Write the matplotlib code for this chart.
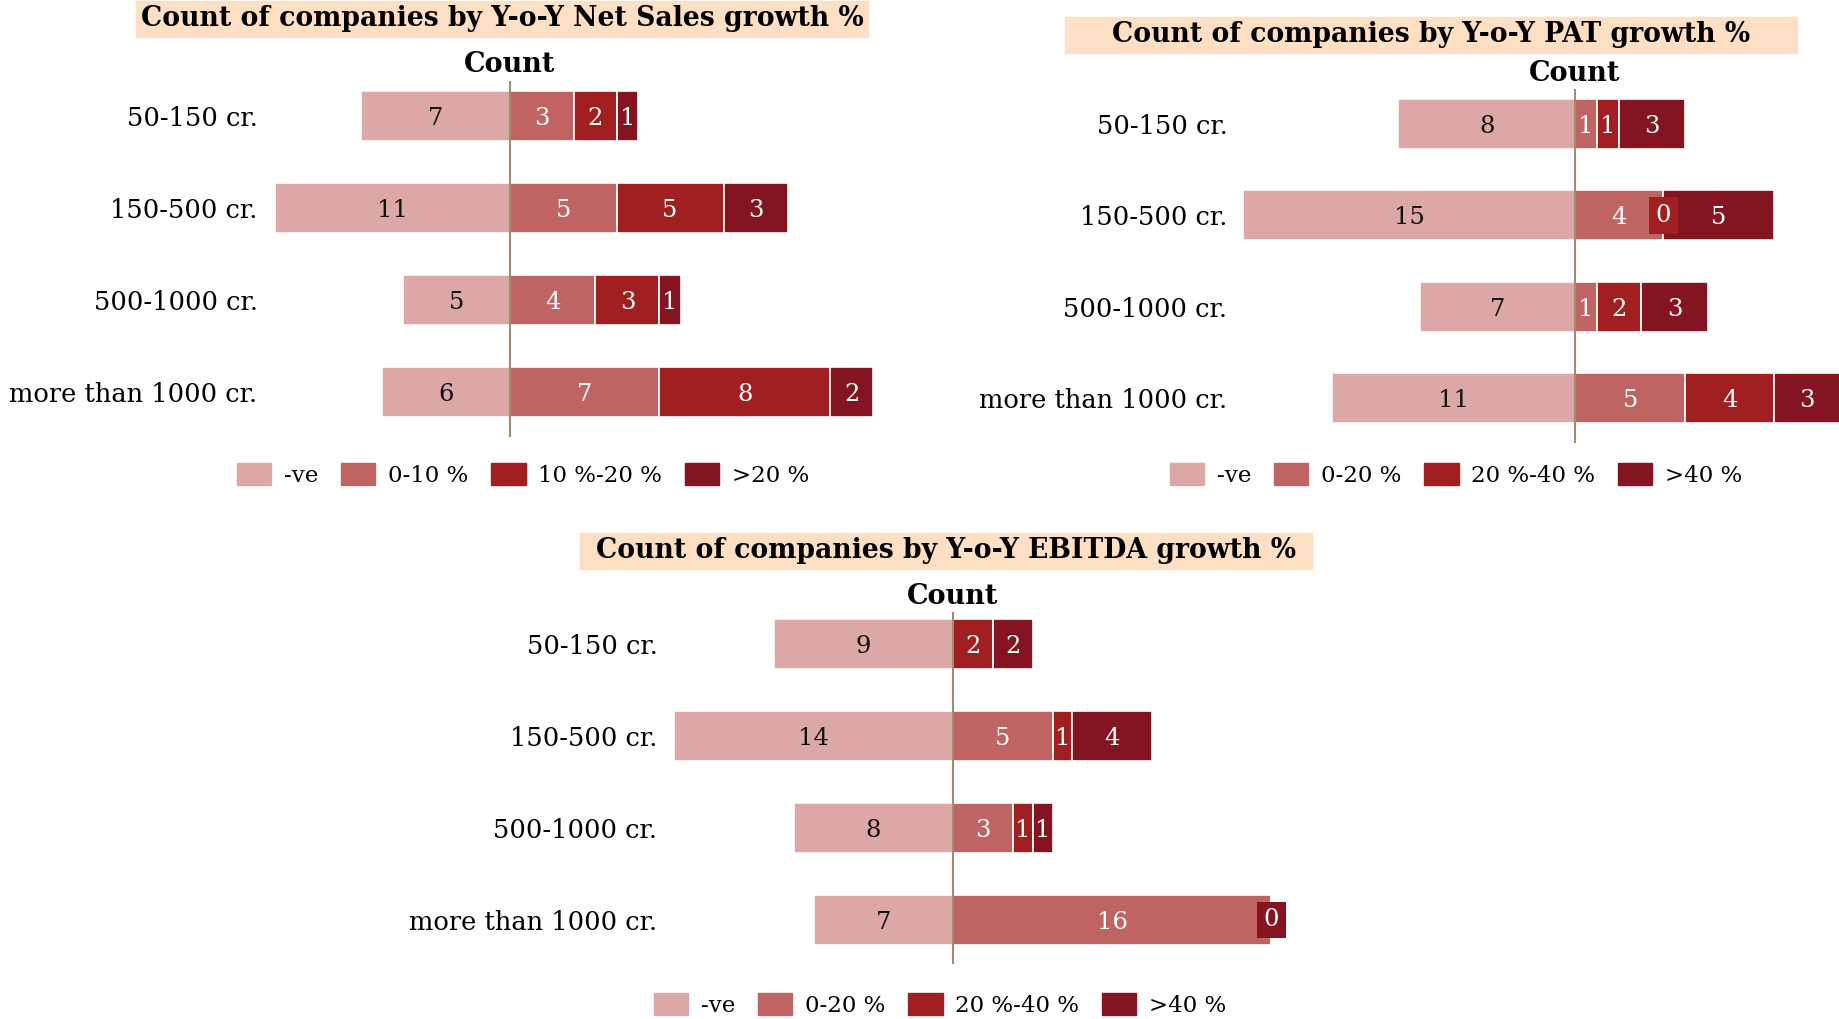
import numpy as np
import matplotlib
matplotlib.use("Agg")
import matplotlib.pyplot as plt
from matplotlib.patches import Rectangle, Patch

plt.rcParams['font.family'] = ['DejaVu Serif']

# ---- data ----
categories = ['50-150 cr.', '150-500 cr.', '500-1000 cr.', 'more than 1000 cr.']

# Net Sales growth
sales_neg = [7, 11, 5, 6]
sales_0_10 = [3, 5, 4, 7]
sales_10_20 = [2, 5, 3, 8]
sales_20 = [1, 3, 1, 2]
sales_legend = ['-ve', '0-10 %', '10 %-20 %', '>20 %']

# PAT growth
pat_neg = [8, 15, 7, 11]
pat_0_20 = [1, 4, 1, 5]
pat_20_40 = [1, 0, 2, 4]
pat_40 = [3, 5, 3, 3]
pat_legend = ['-ve', '0-20 %', '20 %-40 %', '>40 %']

# EBITDA growth (nan = no label shown)
ebitda_neg = [9, 14, 8, 7]
ebitda_0_20 = [np.nan, 5, 3, 16]
ebitda_20_40 = [2, 1, 1, np.nan]
ebitda_40 = [2, 4, 1, 0]
ebitda_legend = ['-ve', '0-20 %', '20 %-40 %', '>40 %']

colors = ['#dba7a7', '#bf6463', '#a11f21', '#84141f']
axis_color = '#a08d6e'
title_bg = '#fddfc3'

W, H = 1840, 1019
fig = plt.figure(figsize=(W / 100, H / 100), dpi=100)


def add_ax(left, top, right, bottom):
    return fig.add_axes([left / W, 1 - bottom / H, (right - left) / W, (bottom - top) / H])


def draw_chart(ax, neg, pos_series, legend_labels, xlim, ylim, legend_xy):
    y = np.arange(len(categories))
    bh = 0.545
    ax.barh(y, -np.array(neg), height=bh, color=colors[0], edgecolor='white', linewidth=1.2)
    for i, v in enumerate(neg):
        ax.text(-v / 2, i + 0.03, str(v), ha='center', va='center', fontsize=17.5, color='#111111')
    left = np.zeros(len(categories))
    for k, s in enumerate(pos_series):
        s = np.array(s, dtype=float)
        w = np.nan_to_num(s)
        ax.barh(y, w, left=left, height=bh, color=colors[k + 1], edgecolor='white', linewidth=1.2)
        for i, v in enumerate(s):
            if np.isnan(v):
                continue
            if v == 0:
                ax.text(left[i], i, '0', ha='center', va='center', fontsize=17.5, color='white',
                        zorder=5, bbox=dict(boxstyle='square,pad=0.28', fc=colors[k + 1], ec='none'))
            else:
                ax.text(left[i] + v / 2, i + 0.03, str(int(v)), ha='center', va='center',
                        fontsize=17.5, color='white', zorder=5)
        left = left + w
    ax.axvline(0, color=axis_color, lw=1.5, zorder=4)
    ax.set_xlim(*xlim)
    ax.set_ylim(*ylim)
    ax.set_yticks(y)
    ax.set_yticklabels(categories, fontsize=18.5)
    ax.tick_params(axis='y', length=0, pad=9)
    ax.set_xticks([])
    for sp in ax.spines.values():
        sp.set_visible(False)
    ax.text(0, 1.045, 'Count', transform=ax.get_xaxis_transform(), ha='center', va='center',
            fontsize=19.5, fontweight='bold')
    handles = [Patch(color=c) for c in colors]
    ax.legend(handles, legend_labels, loc='center', ncol=4, frameon=False, fontsize=16.5,
              bbox_to_anchor=(legend_xy[0] / W, 1 - legend_xy[1] / H), bbox_transform=fig.transFigure,
              handlelength=1.5, handleheight=1.1, handletextpad=0.55, columnspacing=1.0)


def add_title(text, cx, cy):
    fig.patches.append(Rectangle(((cx - 366) / W, 1 - (cy + 18) / H), 732 / W, 36 / H,
                                 transform=fig.transFigure, color=title_bg, zorder=0))
    fig.text(cx / W, 1 - cy / H, text, ha='center', va='center', fontsize=19.2, fontweight='bold')


# Net Sales chart
ax1 = add_ax(270, 81, 880, 437)
draw_chart(ax1, sales_neg, [sales_0_10, sales_10_20, sales_20], sales_legend,
           (-(510 - 270) / 21.35, (880 - 510) / 21.35), (3.49, -0.38), (523, 475))
add_title('Count of companies by Y-o-Y Net Sales growth %', 502, 19)

# PAT chart
ax2 = add_ax(1240, 89, 1840, 443)
draw_chart(ax2, pat_neg, [pat_0_20, pat_20_40, pat_40], pat_legend,
           (-(1575 - 1240) / 22.1, (1840 - 1575) / 22.1), (3.49, -0.38), (1456, 475))
add_title('Count of companies by Y-o-Y PAT growth %', 1431, 35)

# EBITDA chart
ax3 = add_ax(670, 612, 1300, 964)
draw_chart(ax3, ebitda_neg, [ebitda_0_20, ebitda_20_40, ebitda_40], ebitda_legend,
           (-(953 - 670) / 19.9, (1300 - 953) / 19.9), (3.48, -0.35), (940, 1005))
add_title('Count of companies by Y-o-Y EBITDA growth %', 946, 551)

fig.savefig('out.png', dpi=100)
